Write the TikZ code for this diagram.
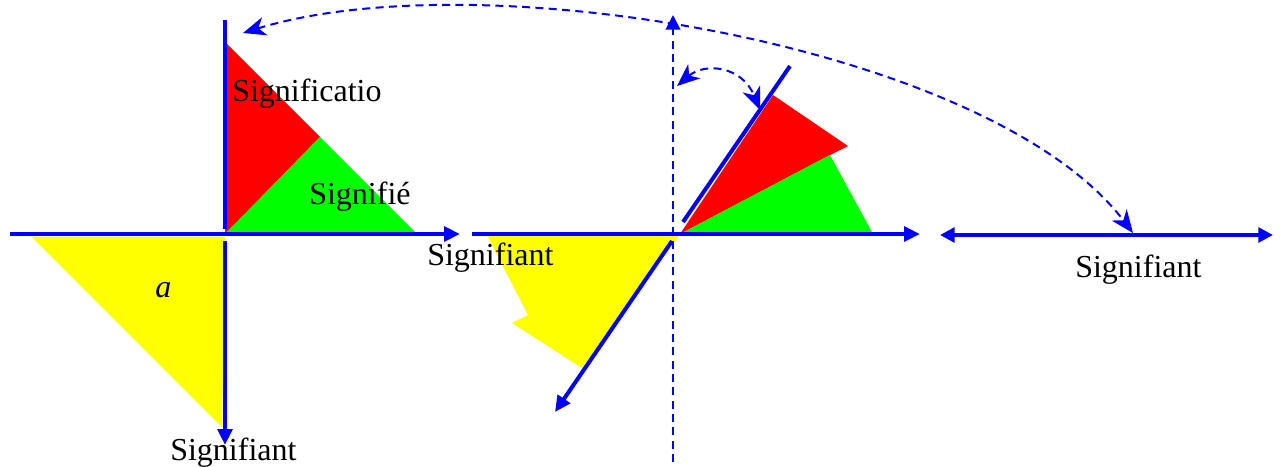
\documentclass[tikz,border=0pt]{standalone}
\usepackage{fontspec}
\setmainfont{Liberation Serif}
\usetikzlibrary{arrows.meta}
\definecolor{AxisBlue}{RGB}{0,0,255}
\definecolor{SignRed}{RGB}{255,0,0}
\definecolor{SignGreen}{RGB}{0,255,0}
\definecolor{SignYellow}{RGB}{255,255,0}

\begin{document}
\begin{tikzpicture}[x=0.75pt,y=-0.75pt,
  axis/.style={draw=AxisBlue,line width=3pt},
  tip/.style={-{Triangle[length=12pt,width=11pt]}},
  turn/.style={draw=AxisBlue,line width=1.5pt,dash pattern=on 6pt off 4pt,
    {Stealth[length=17pt,width=14pt,inset=5pt]}-{Stealth[length=17pt,width=14pt,inset=5pt]}},
  lbl/.style={anchor=base west,inner sep=0pt,font=\fontsize{24}{28}\selectfont}]
  \useasboundingbox (0,0) rectangle (1281,467);
  % left figure
  \coordinate (o1) at (225,234);
  \fill[SignRed] (226,43) -- (320,137) -- (o1) -- cycle;
  \fill[SignGreen] (o1) -- (320,137) -- (417,234) -- cycle;
  \fill[SignYellow] (32,237) -- (225,237) -- (222,427) -- cycle;
  \coordinate (v1top) at (225,20);
  \coordinate (v1bot) at (225,445);
  \coordinate (h1end) at (460,234);
  \draw[axis] (v1top) -- (225,229);
  \draw[axis,tip] (225,241) -- (v1bot);
  \draw[axis,tip] (10,234) -- (h1end);
  % middle figure, turned
  \coordinate (o2) at (680,234);
  \fill[SignRed] (o2) -- (773,95) -- (848,146) -- (830,155) -- cycle;
  \fill[SignGreen] (o2) -- (830,155) -- (873,234) -- cycle;
  \fill[SignYellow] (487,235) -- (528,315) -- (512,323) -- (582,368) -- (o2) -- cycle;
  \coordinate (r2top) at (790,66);
  \coordinate (r2bot) at (555,412);
  \draw[axis,tip] (472,234) -- (920,234);
  \draw[axis] (683,222) -- (r2top);
  \draw[axis,tip] (672,241) -- (r2bot);
  \coordinate (d2bot) at (673,462);
  \coordinate (d2top) at (673,15);
  \draw[draw=AxisBlue,line width=1.5pt,dash pattern=on 6pt off 4pt,
    -{Triangle[length=11pt,width=11pt]}] (d2bot) -- (d2top);
  % right figure
  \coordinate (h3a) at (940,235);
  \coordinate (h3b) at (1273,235);
  \draw[axis,{Triangle[length=11pt,width=11pt]}-{Triangle[length=11pt,width=11pt]}] (h3a) -- (h3b);
  % labels
  \node[lbl] (signif) at (232,101) {Significatio};
  \node[lbl] (signe) at (309,204) {Signifié};
  \node[lbl] (a) at (155,297) {\textit{a}};
  \node[lbl] (sgt1) at (170,460) {Signifiant};
  \node[lbl] (sgt2) at (427,265) {Signifiant};
  \node[lbl] (sgt3) at (1075,277) {Signifiant};
  % dashed turns
  \coordinate (t1) at (677,86);
  \coordinate (t2) at (760,110);
  \draw[turn] (t1) .. controls (705,62) and (742,66) .. (t2);
  \coordinate (c1) at (243,33);
  \coordinate (c2) at (1133,233);
  \draw[turn] (c1) .. controls (480,-40) and (990,45) .. (c2);
\end{tikzpicture}
\end{document}
